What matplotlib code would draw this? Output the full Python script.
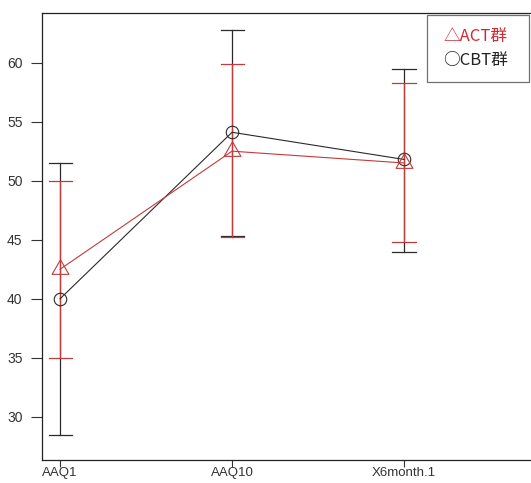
import matplotlib.pyplot as plt
from matplotlib.path import Path

# data
groups = ["AAQ1", "AAQ10", "X6month.1"]
act_mean = [42.5, 52.5, 51.5]
act_upper = [50.0, 59.9, 58.3]
act_lower = [35.0, 45.2, 44.85]
cbt_mean = [40.0, 54.1, 51.8]
cbt_upper = [51.5, 62.8, 59.5]
cbt_lower = [28.5, 45.3, 44.0]

RED = "#c23b3b"
BLACK = "#2a2a2a"

# R-style triangle (pch=2), centred on its centroid
tri = Path([(0, 1), (-0.866, -0.5), (0.866, -0.5), (0, 1)],
           [Path.MOVETO, Path.LINETO, Path.LINETO, Path.CLOSEPOLY])

fig = plt.figure(figsize=(5.31, 4.83), dpi=100)
ax = fig.add_axes([42 / 531, 1 - 460 / 483, 491 / 531, 447 / 483])

x = [1, 2, 3]
cap = 0.067


def draw_bars(lo, hi, color):
    for xi, l, h in zip(x, lo, hi):
        ax.plot([xi, xi], [l, h], color=color, lw=0.9)
        ax.plot([xi - cap, xi + cap], [l, l], color=color, lw=0.9)
        ax.plot([xi - cap, xi + cap], [h, h], color=color, lw=0.9)


draw_bars(cbt_lower, cbt_upper, BLACK)
draw_bars(act_lower, act_upper, RED)

ax.plot(x, cbt_mean, color=BLACK, lw=0.8, marker="o", markersize=9,
        markerfacecolor="none", markeredgecolor=BLACK, markeredgewidth=0.8)
ax.plot(x, act_mean, color=RED, lw=0.8, marker=tri, markersize=14,
        markerfacecolor="none", markeredgecolor=RED, markeredgewidth=0.8)

ax.set_xlim(0.895, 3.75)
ax.set_ylim(26.35, 64.2)
ax.set_xticks(x)
ax.set_xticklabels(groups)
ax.set_yticks([30, 35, 40, 45, 50, 55, 60])
ax.tick_params(direction="out", length=8, width=0.8, colors="#333333",
               labelsize=10, pad=6)
ax.tick_params(axis="x", length=5, pad=0, labelsize=9.5)
for lab in ax.get_xticklabels() + ax.get_yticklabels():
    lab.set_family(["Liberation Sans", "DejaVu Sans"])
for s in ax.spines.values():
    s.set_linewidth(0.9)
    s.set_color("#222222")

# legend box
box = plt.Rectangle((427 / 531, 1 - 82 / 483), 102 / 531, 67 / 483,
                    transform=fig.transFigure, fill=False,
                    edgecolor="#707070", lw=0.9)
fig.patches.append(box)
fam = ["Noto Sans CJK SC", "DejaVu Sans"]
fig.text(443 / 531, 1 - 37 / 483, "△ACT群", color="#d02a32", fontsize=12,
         family=fam, va="center")
fig.text(443 / 531, 1 - 60 / 483, "○CBT群", color="#222222", fontsize=12,
         family=fam, va="center")

fig.savefig("out.png", dpi=100)
